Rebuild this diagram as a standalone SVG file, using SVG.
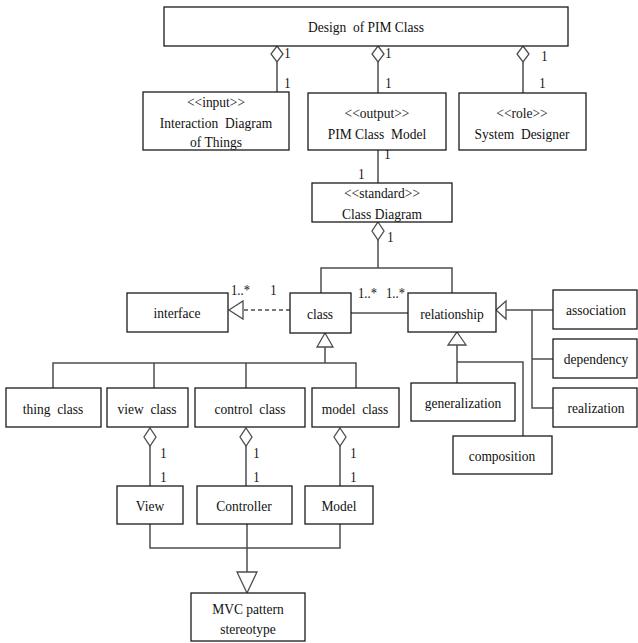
<svg xmlns="http://www.w3.org/2000/svg" width="638" height="643" viewBox="0 0 638 643" xml:space="preserve">
  <style>
    .box { fill: #fff; stroke: #1a1a1a; stroke-width: 1.3; }
    .ln { fill: none; stroke: #4d4d4d; stroke-width: 1.5; }
    .dash { fill: none; stroke: #4d4d4d; stroke-width: 1.5; stroke-dasharray: 4 3; }
    .head { fill: #fff; stroke: #4d4d4d; stroke-width: 1.3; }
    text { font-family: "Liberation Serif", "Times New Roman", serif; font-size: 15px; fill: #111; white-space: pre;
           transform-box: fill-box; transform-origin: center; transform: scaleX(0.9); }
    .c { text-anchor: middle; }
    .m { font-size: 14px; }
  </style>
  <rect width="638" height="643" fill="#fff"/>

  <!-- connectors -->
  <g id="connectors">
    <!-- top aggregations -->
    <path class="ln" d="M277 62V92M378 62V93M523 62V93"/>
    <polygon class="head" points="277,46 283,54 277,62 271,54"/>
    <polygon class="head" points="378,46 384,54 378,62 372,54"/>
    <polygon class="head" points="523,46 529,54 523,62 517,54"/>
    <text class="m" x="284" y="58">1</text>
    <text class="m" x="284" y="88">1</text>
    <text class="m" x="385" y="58">1</text>
    <text class="m" x="385" y="88">1</text>
    <text class="m" x="541" y="61">1</text>
    <text class="m" x="539" y="88">1</text>

    <!-- output to class diagram -->
    <path class="ln" d="M378 150V183"/>
    <text class="m" x="384" y="159">1</text>
    <text class="m" x="358" y="179">1</text>

    <!-- class diagram aggregation -->
    <polygon class="head" points="378,222 384,231 378,240 372,231"/>
    <text class="m" x="387" y="242">1</text>
    <path class="ln" d="M378 240V268M321 293V268H452V293"/>

    <!-- class realizes interface -->
    <path class="dash" d="M290 310H243"/>
    <polygon class="head" points="229,310 243,301 243,319"/>
    <text class="m" x="230" y="295">1..*</text>
    <text class="m" x="270" y="295">1</text>

    <!-- class to relationship -->
    <path class="ln" d="M351 313H408"/>
    <text class="m" x="357" y="298">1..*</text>
    <text class="m" x="385" y="298">1..*</text>

    <!-- relationship kinds (right) -->
    <polygon class="head" points="496,310 506,301 506,319"/>
    <path class="ln" d="M506 310H553M532 310V408H553M532 359H553"/>

    <!-- relationship kinds (below) -->
    <polygon class="head" points="457,332 466,345 448,345"/>
    <path class="ln" d="M457 345V383M457 362H523V436"/>

    <!-- class specialisations -->
    <polygon class="head" points="325,333 333,347 317,347"/>
    <path class="ln" d="M325 347V363M53 388V363H356V388M154 363V388M246 363V388"/>

    <!-- MVC aggregations -->
    <polygon class="head" points="150,428 156,437 150,446 144,437"/>
    <polygon class="head" points="246,428 252,437 246,446 240,437"/>
    <polygon class="head" points="340,428 346,437 340,446 334,437"/>
    <path class="ln" d="M150 446V486M246 446V486M340 446V486"/>
    <text class="m" x="160" y="458">1</text>
    <text class="m" x="160" y="482">1</text>
    <text class="m" x="253" y="458">1</text>
    <text class="m" x="253" y="482">1</text>
    <text class="m" x="350" y="458">1</text>
    <text class="m" x="350" y="482">1</text>

    <!-- MVC to stereotype -->
    <path class="ln" d="M150 524V548H340V524M247 524V572"/>
    <polygon class="head" points="237,572 257,572 247,593"/>
  </g>

  <!-- nodes -->
  <g id="design-pim-class">
    <rect class="box" x="164" y="7" width="404" height="39"/>
    <text class="c" x="366" y="32">Design  of PIM Class</text>
  </g>
  <g id="interaction-diagram">
    <rect class="box" x="143" y="92" width="146" height="58"/>
    <text class="c" x="216" y="107">&lt;&lt;input&gt;&gt;</text>
    <text class="c" x="216" y="128">Interaction  Diagram</text>
    <text class="c" x="216" y="147">of Things</text>
  </g>
  <g id="pim-class-model">
    <rect class="box" x="308" y="93" width="138" height="57"/>
    <text class="c" x="377" y="118">&lt;&lt;output&gt;&gt;</text>
    <text class="c" x="377" y="139">PIM Class  Model</text>
  </g>
  <g id="system-designer">
    <rect class="box" x="459" y="93" width="127" height="57"/>
    <text class="c" x="522" y="118">&lt;&lt;role&gt;&gt;</text>
    <text class="c" x="522" y="139">System  Designer</text>
  </g>
  <g id="class-diagram">
    <rect class="box" x="312" y="183" width="140" height="39"/>
    <text class="c" x="382" y="198">&lt;&lt;standard&gt;&gt;</text>
    <text class="c" x="382" y="219">Class Diagram</text>
  </g>
  <g id="interface">
    <rect class="box" x="127" y="293" width="101" height="39"/>
    <text class="c" x="177" y="318">interface</text>
  </g>
  <g id="class">
    <rect class="box" x="290" y="293" width="61" height="40"/>
    <text class="c" x="320" y="319">class</text>
  </g>
  <g id="relationship">
    <rect class="box" x="408" y="293" width="88" height="39"/>
    <text class="c" x="452" y="319">relationship</text>
  </g>
  <g id="association">
    <rect class="box" x="553" y="290" width="84" height="39"/>
    <text class="c" x="596" y="315">association</text>
  </g>
  <g id="dependency">
    <rect class="box" x="553" y="339" width="84" height="39"/>
    <text class="c" x="596" y="364">dependency</text>
  </g>
  <g id="realization">
    <rect class="box" x="553" y="388" width="84" height="39"/>
    <text class="c" x="596" y="413">realization</text>
  </g>
  <g id="generalization">
    <rect class="box" x="411" y="383" width="104" height="38"/>
    <text class="c" x="463" y="408">generalization</text>
  </g>
  <g id="composition">
    <rect class="box" x="453" y="436" width="99" height="38"/>
    <text class="c" x="502" y="461">composition</text>
  </g>
  <g id="thing-class">
    <rect class="box" x="6" y="388" width="95" height="39"/>
    <text class="c" x="53" y="414">thing  class</text>
  </g>
  <g id="view-class">
    <rect class="box" x="107" y="388" width="81" height="39"/>
    <text class="c" x="147" y="414">view  class</text>
  </g>
  <g id="control-class">
    <rect class="box" x="195" y="388" width="110" height="39"/>
    <text class="c" x="250" y="414">control  class</text>
  </g>
  <g id="model-class">
    <rect class="box" x="312" y="388" width="87" height="39"/>
    <text class="c" x="355" y="414">model  class</text>
  </g>
  <g id="view">
    <rect class="box" x="117" y="486" width="66" height="38"/>
    <text class="c" x="150" y="511">View</text>
  </g>
  <g id="controller">
    <rect class="box" x="197" y="486" width="95" height="38"/>
    <text class="c" x="244" y="511">Controller</text>
  </g>
  <g id="model">
    <rect class="box" x="305" y="486" width="68" height="38"/>
    <text class="c" x="339" y="511">Model</text>
  </g>
  <g id="mvc-pattern">
    <rect class="box" x="191" y="593" width="114" height="48"/>
    <text class="c" x="248" y="614">MVC pattern</text>
    <text class="c" x="248" y="634">stereotype</text>
  </g>
</svg>
